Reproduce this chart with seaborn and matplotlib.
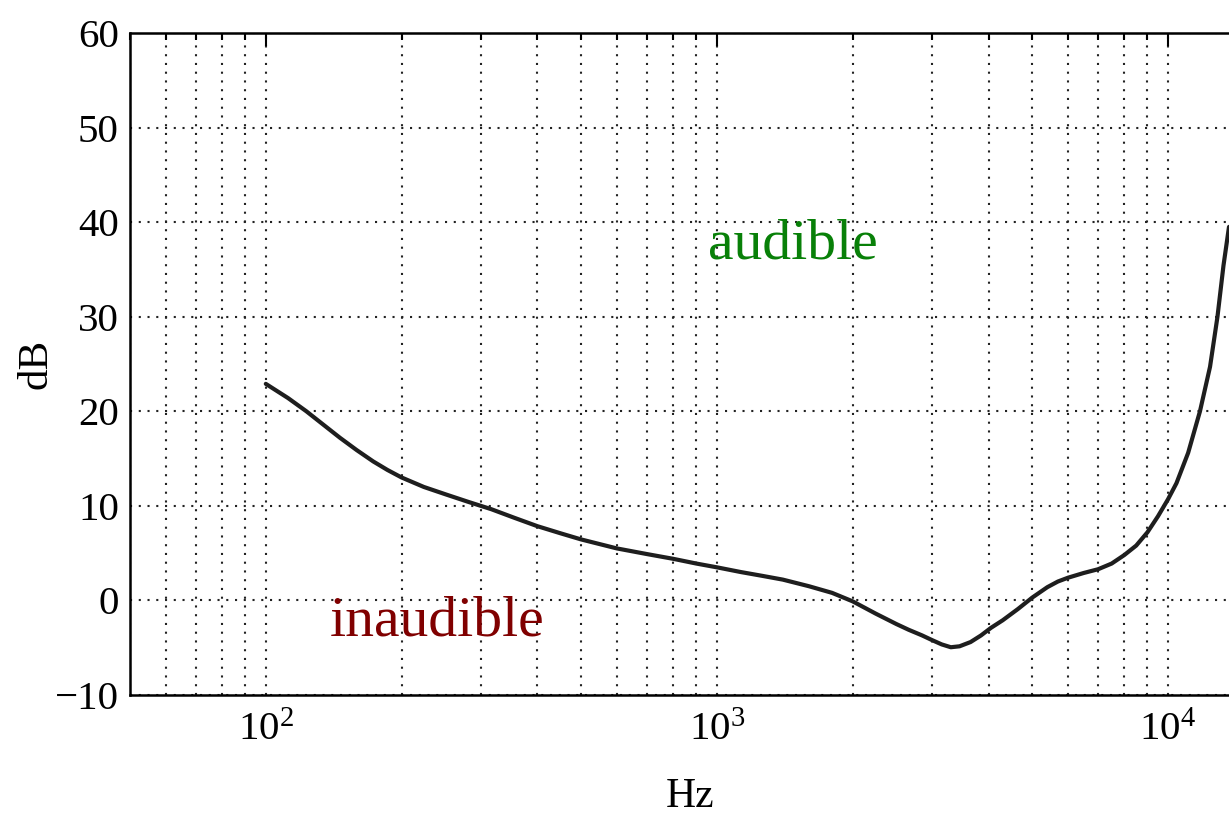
import matplotlib
matplotlib.use("Agg")
import matplotlib.pyplot as plt
import matplotlib.ticker as mticker
import seaborn as sns
import pandas as pd

# Threshold-of-hearing curve
freq_hz = [100, 112, 123, 134, 146, 159, 173, 186, 200, 224, 251, 282, 316, 355,
           400, 450, 500, 600, 700, 800, 900, 1000, 1130, 1260, 1400, 1600, 1800,
           2000, 2250, 2500, 2660, 2850, 3000, 3150, 3300, 3450, 3650, 3850, 4050,
           4300, 4650, 5000, 5400, 5700, 6000, 6500, 7000, 7500, 8000, 8500, 9000,
           9500, 10000, 10440, 11080, 11770, 12390, 12870, 13270, 13650]
level_db = [22.9, 21.4, 20.0, 18.6, 17.2, 15.9, 14.7, 13.8, 13.0, 12.0, 11.2, 10.4,
            9.65, 8.75, 7.85, 7.1, 6.45, 5.5, 4.9, 4.4, 3.9, 3.5, 3.0, 2.6, 2.2, 1.5,
            0.8, -0.1, -1.4, -2.5, -3.1, -3.7, -4.2, -4.65, -4.95, -4.85, -4.4,
            -3.7, -2.9, -2.1, -0.9, 0.3, 1.4, 2.0, 2.4, 2.9, 3.3, 3.9, 4.8, 5.8,
            7.2, 8.9, 10.7, 12.4, 15.6, 20.0, 24.7, 30.0, 35.4, 39.5]

y_ticks = [-10, 0, 10, 20, 30, 40, 50, 60]
x_label = "Hz"
y_label = "dB"
label_audible = "audible"
label_inaudible = "inaudible"

sns.set_theme(style="white")
plt.rcParams["font.family"] = ["Liberation Serif", "DejaVu Serif"]
plt.rcParams["mathtext.fontset"] = "custom"
plt.rcParams["mathtext.rm"] = "Liberation Serif"
plt.rcParams["mathtext.it"] = "Liberation Serif:italic"
plt.rcParams["mathtext.bf"] = "Liberation Serif:bold"

fig = plt.figure(figsize=(12.29, 8.15), dpi=100)
W, H = 1229, 815
ax = fig.add_axes([130 / W, 1 - 695 / H, (W - 130) / W, (695 - 33) / H])

df = pd.DataFrame({"Hz": freq_hz, "dB": level_db})
sns.lineplot(data=df, x="Hz", y="dB", ax=ax, color="#1e1e1e", linewidth=3.0,
             estimator=None, sort=False, zorder=3)

ax.set_xscale("log")
ax.set_xlim(50, 13650)
ax.set_ylim(-10, 60)
ax.set_yticks(y_ticks)
ax.xaxis.set_major_locator(mticker.LogLocator(base=10))
ax.xaxis.set_minor_locator(mticker.LogLocator(base=10, subs=range(2, 10)))
ax.xaxis.set_minor_formatter(mticker.NullFormatter())

dot = (0, (1, 3.2))
ax.grid(True, which="both", axis="x", linestyle=dot, linewidth=1.5, color="#222222")
ax.grid(True, which="major", axis="y", linestyle=dot, linewidth=1.5, color="#222222")
ax.set_axisbelow(True)

for s in ["left", "bottom", "top"]:
    ax.spines[s].set_visible(True)
    ax.spines[s].set_color("black")
    ax.spines[s].set_linewidth(1.8)
ax.spines["right"].set_visible(False)

ax.tick_params(which="both", direction="in", top=True, right=False, colors="black",
               width=1.5)
ax.tick_params(which="major", length=9, labelsize=29.5, pad=8)
ax.tick_params(which="minor", length=5)
ax.tick_params(axis="x", which="major", pad=12)

ax.set_xlabel(x_label, fontsize=30, color="black")
ax.set_ylabel(y_label, fontsize=31, color="black")
ax.xaxis.set_label_coords((690 - 130) / (W - 130), -0.125)
ax.yaxis.set_label_coords((55 - 130) / (W - 130), 0.5)

ax.text(1470, 36.2, label_audible, color="#088008", fontsize=41.5,
        ha="center", va="baseline", zorder=4)
ax.text(240, -3.7, label_inaudible, color="#800000", fontsize=41.5,
        ha="center", va="baseline", zorder=4)

fig.savefig("out.png", dpi=100, facecolor="white")
